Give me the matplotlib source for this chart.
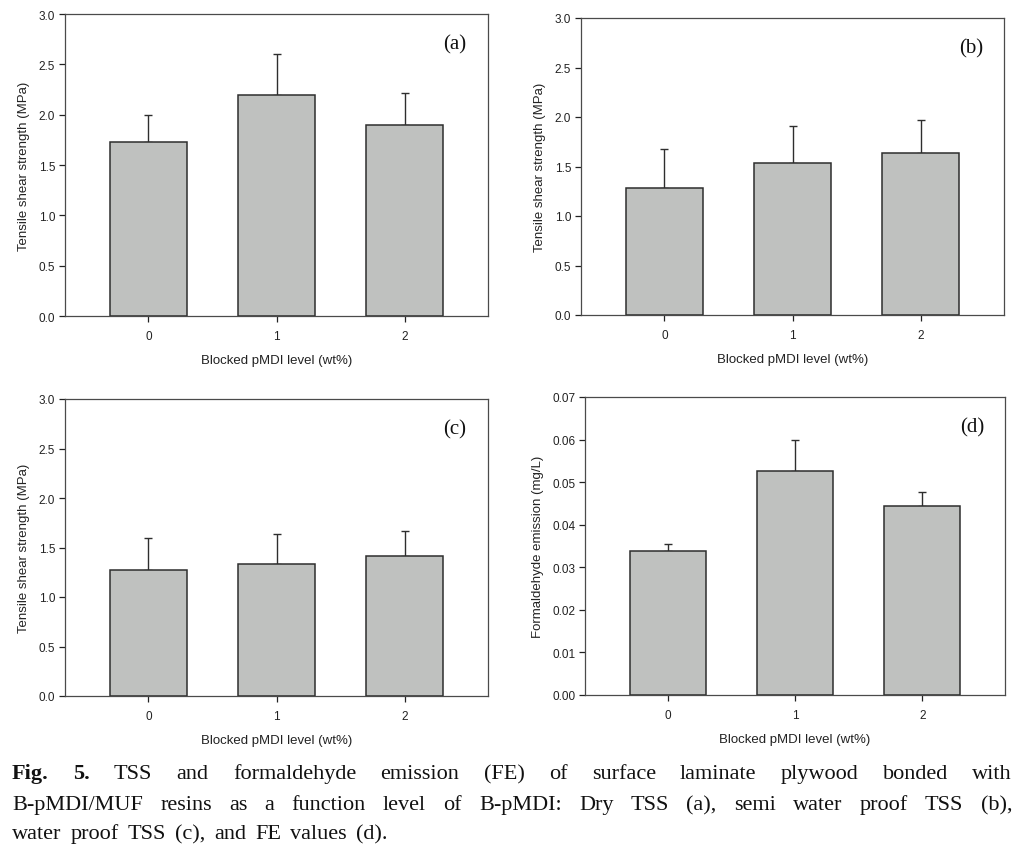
import matplotlib
matplotlib.use("Agg")
import matplotlib.pyplot as plt
import numpy as np

# ── Data ──────────────────────────────────────────────────────────────────────
levels = ["0", "1", "2"]

dry_tss = [1.73, 2.20, 1.90]
dry_tss_err = [0.27, 0.40, 0.32]

semi_tss = [1.28, 1.54, 1.64]
semi_tss_err = [0.40, 0.37, 0.33]

water_tss = [1.27, 1.33, 1.41]
water_tss_err = [0.33, 0.31, 0.26]

fe_values = [0.0339, 0.0527, 0.0445]
fe_err = [0.0015, 0.0073, 0.0033]

tss_ticks = [0.0, 0.5, 1.0, 1.5, 2.0, 2.5, 3.0]
fe_ticks = [0.00, 0.01, 0.02, 0.03, 0.04, 0.05, 0.06, 0.07]

caption_lines = [
    "Fig. 5. TSS and formaldehyde emission (FE) of surface laminate plywood bonded with",
    "B-pMDI/MUF resins as a function level of B-pMDI: Dry TSS (a), semi water proof TSS (b),",
    "water proof TSS (c), and FE values (d).",
]

# ── Figure ────────────────────────────────────────────────────────────────────
W, H = 1032, 854
fig = plt.figure(figsize=(W / 100, H / 100), dpi=100)
plt.rcParams["font.family"] = ["Liberation Sans", "DejaVu Sans"]

BAR_COLOR = "#bfc1bf"
EDGE = "#2e2e2e"
SPINE = "#4a4a4a"


def px_axes(left, top, right, bottom):
    return fig.add_axes([left / W, 1 - bottom / H, (right - left) / W, (bottom - top) / H])


def draw_panel(ax, vals, errs, ticks, fmt, ylabel, tag, show_xlabel=True):
    x = np.arange(len(levels))
    ax.bar(x, vals, width=0.6, color=BAR_COLOR, edgecolor=EDGE, linewidth=1.1, zorder=2)
    ax.errorbar(x, vals, yerr=[np.zeros(len(vals)), errs], fmt="none",
                ecolor=EDGE, elinewidth=1.0, capsize=3, capthick=1.0, zorder=1)
    ax.set_xlim(-0.65, 2.65)
    ax.set_ylim(ticks[0], ticks[-1])
    ax.set_xticks(x)
    ax.set_xticklabels(levels)
    ax.set_yticks(ticks)
    ax.set_yticklabels([fmt.format(t) for t in ticks])
    ax.tick_params(direction="out", length=4, width=0.9, labelsize=8.5,
                   colors="#222222", pad=3)
    ax.tick_params(axis="x", pad=6)
    ax.tick_params(top=False, right=False)
    for s in ax.spines.values():
        s.set_color(SPINE)
        s.set_linewidth(0.9)
    ax.set_ylabel(ylabel, fontsize=9.5, color="#222222", labelpad=6)
    if show_xlabel:
        ax.set_xlabel("Blocked pMDI level (wt%)", fontsize=9.5, color="#222222", labelpad=9)
    ax.text(0.922, 0.90, tag, transform=ax.transAxes, ha="center", va="center",
            fontsize=15, family=["Liberation Serif", "DejaVu Serif"], color="#111111")


ax_a = px_axes(65, 15, 488, 317)
ax_b = px_axes(581, 19, 1004, 316)
ax_c = px_axes(65, 400, 488, 697)
ax_d = px_axes(585, 398, 1005, 696)

draw_panel(ax_a, dry_tss, dry_tss_err, tss_ticks, "{:.1f}",
           "Tensile shear strength (MPa)", "(a)")
draw_panel(ax_b, semi_tss, semi_tss_err, tss_ticks, "{:.1f}",
           "Tensile shear strength (MPa)", "(b)")
draw_panel(ax_c, water_tss, water_tss_err, tss_ticks, "{:.1f}",
           "Tensile shear strength (MPa)", "(c)")
draw_panel(ax_d, fe_values, fe_err, fe_ticks, "{:.2f}",
           "Formaldehyde emission (mg/L)", "(d)")

# ── Caption (justified, serif) ────────────────────────────────────────────────
renderer = fig.canvas.get_renderer()
CAP_LEFT, CAP_RIGHT = 12, 1012
cap_baseline = [779, 810, 839]
serif = ["Liberation Serif", "DejaVu Serif"]

for li, (line, yy) in enumerate(zip(caption_lines, cap_baseline)):
    words = line.split(" ")
    texts = []
    for wi, word in enumerate(words):
        bold = li == 0 and wi < 2
        t = fig.text(0, 1 - yy / H, word, fontsize=16, family=serif,
                     fontweight="bold" if bold else "normal",
                     va="baseline", ha="left", color="#111111")
        texts.append(t)
    widths = [t.get_window_extent(renderer).width for t in texts]
    justify = li < len(caption_lines) - 1
    if justify:
        gap = (CAP_RIGHT - CAP_LEFT - sum(widths)) / (len(words) - 1)
    else:
        gap = 9
    xpos = CAP_LEFT
    for t, w in zip(texts, widths):
        t.set_x(xpos / W)
        xpos += w + gap

fig.savefig("out.png", dpi=100)
